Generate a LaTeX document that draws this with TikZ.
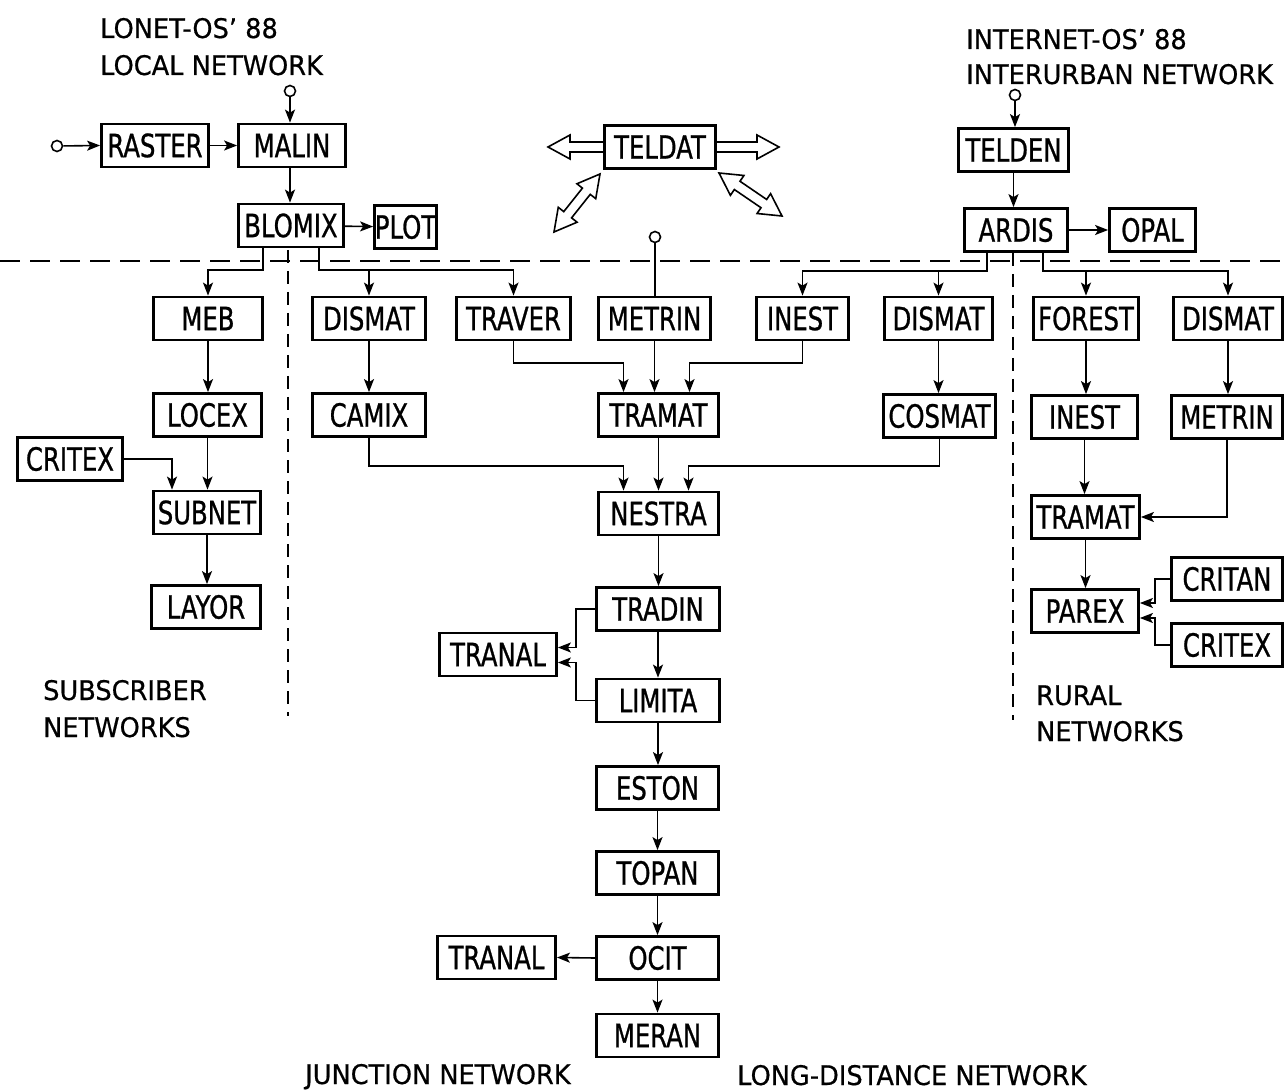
\documentclass[tikz,border=0pt]{standalone}
\usepackage{fontspec}
\setmainfont{DejaVu Sans}
\newfontfamily\boxfnt[FakeStretch=0.76,FakeBold=0.8]{DejaVu Sans}
\newfontfamily\hdrfnt[FakeStretch=0.95,FakeBold=0.6]{DejaVu Sans}
\usetikzlibrary{arrows.meta,calc}
\newcommand{\sglarrow}[2]{\draw[hol] ($(#1)!5pt!90:(#2)$) -- ($(#2)!22pt!(#1)!5pt!-90:(#1)$) -- ($(#2)!22pt!(#1)!12pt!-90:(#1)$) -- (#2) -- ($(#2)!22pt!(#1)!12pt!90:(#1)$) -- ($(#2)!22pt!(#1)!5pt!90:(#1)$) -- ($(#1)!5pt!-90:(#2)$);}
\newcommand{\dblarrow}[2]{\draw[hol] (#1) -- ($(#1)!22pt!(#2)!12pt!90:(#2)$) -- ($(#1)!22pt!(#2)!5pt!90:(#2)$) -- ($(#2)!22pt!(#1)!5pt!-90:(#1)$) -- ($(#2)!22pt!(#1)!12pt!-90:(#1)$) -- (#2) -- ($(#2)!22pt!(#1)!12pt!90:(#1)$) -- ($(#2)!22pt!(#1)!5pt!90:(#1)$) -- ($(#1)!22pt!(#2)!5pt!-90:(#2)$) -- ($(#1)!22pt!(#2)!12pt!-90:(#2)$) -- cycle;}
\begin{document}
\begin{tikzpicture}[x=1pt,y=-1pt,
  bx/.style={draw, line width=2.8pt, inner sep=0pt, minimum height=43pt, font=\boxfnt\fontsize{32}{32}\selectfont},
  bw/.style={minimum width=#1pt},
  arr/.style={-{Stealth[length=13pt,width=10pt,inset=3pt]}, line width=1.6pt},
  ln/.style={line width=1.6pt},
  inp/.style={circle, draw, line width=1.6pt, minimum size=11pt, inner sep=0pt},
  hol/.style={line width=1.6pt, line join=miter},
  dsh/.style={line width=1.6pt, dash pattern=on 20pt off 10pt},
  vdsh/.style={line width=1.6pt, dash pattern=on 13pt off 8pt},
  lbl/.style={inner sep=0pt, anchor=base west, font=\hdrfnt\fontsize{27}{27}\selectfont}]
\useasboundingbox (0,0) rectangle (1286,1091);
\fill[white] (0,0) rectangle (1286,1091);

% separators
\draw[dsh] (0,261) -- (1286,261);
\draw[vdsh] (288,250) -- (288,716);
\draw[vdsh] (1013,253) -- (1013,720);

% headings
\node[lbl] (h1) at (100,38) {LONET-OS’ 88};
\node[lbl] (h2) at (100,75) {LOCAL NETWORK};
\node[lbl] (h3) at (966,49) {INTERNET-OS’ 88};
\node[lbl] (h4) at (966,84) {INTERURBAN NETWORK};
\node[lbl] (h5) at (43,700) {SUBSCRIBER};
\node[lbl] (h6) at (43,737) {NETWORKS};
\node[lbl] (h7) at (1036,705) {RURAL};
\node[lbl] (h8) at (1036,741) {NETWORKS};
\node[lbl] (h9) at (305,1084) {JUNCTION NETWORK};
\node[lbl] (h10) at (737,1085) {LONG-DISTANCE NETWORK};

% boxes
\node[bx,bw=107] (raster) at (155,145.5) {RASTER};
\node[bx,bw=107] (malin) at (292,145.5) {MALIN};
\node[bx,bw=105] (blomix) at (291,225.5) {BLOMIX};
\node[bx,bw=62] (plot) at (405.5,227) {PLOT};
\node[bx,bw=111] (teldat) at (660,147) {TELDAT};
\node[bx,bw=110] (telden) at (1013.5,150) {TELDEN};
\node[bx,bw=103] (ardis) at (1016,230) {ARDIS};
\node[bx,bw=86] (opal) at (1152.5,230) {OPAL};

\node[bx,bw=109] (meb) at (208,318.5) {MEB};
\node[bx,bw=113] (dismatj) at (369,318.5) {DISMAT};
\node[bx,bw=114] (traver) at (513.5,318.5) {TRAVER};
\node[bx,bw=112] (metrin) at (654.5,318.5) {METRIN};
\node[bx,bw=92] (inest) at (802.5,318.5) {INEST};
\node[bx,bw=108] (dismatl) at (938.5,318.5) {DISMAT};
\node[bx,bw=105] (forest) at (1086,318.5) {FOREST};
\node[bx,bw=109] (dismatr) at (1228,318.5) {DISMAT};

\node[bx,bw=108] (locex) at (207.5,415) {LOCEX};
\node[bx,bw=113] (camix) at (369,415) {CAMIX};
\node[bx,bw=120] (tramatc) at (658.5,415) {TRAMAT};
\node[bx,bw=112] (cosmat) at (939.5,416) {COSMAT};
\node[bx,bw=106] (inestr) at (1084.5,417) {INEST};
\node[bx,bw=111] (metrinr) at (1227,417) {METRIN};

\node[bx,bw=105] (critexl) at (70,459) {CRITEX};
\node[bx,bw=107] (subnet) at (207,512.5) {SUBNET};
\node[bx,bw=120] (nestra) at (658.5,513.5) {NESTRA};
\node[bx,bw=108] (tramatr) at (1085.5,517) {TRAMAT};

\node[bx,bw=109] (layor) at (206,607) {LAYOR};
\node[bx,bw=123] (tradin) at (658,609) {TRADIN};
\node[bx,bw=107] (parex) at (1085,611) {PAREX};
\node[bx,bw=111] (critan) at (1227,579) {CRITAN};
\node[bx,bw=111] (critexr) at (1227,645) {CRITEX};
\node[bx,bw=117] (tranala) at (498,654.5) {TRANAL};
\node[bx,bw=123] (limita) at (658,700.5) {LIMITA};
\node[bx,bw=122] (eston) at (657.5,788) {ESTON};
\node[bx,bw=122] (topan) at (657.5,873) {TOPAN};
\node[bx,bw=122] (ocit) at (657.5,958) {OCIT};
\node[bx,bw=118] (tranalb) at (496.5,957.5) {TRANAL};
\node[bx,bw=122] (meran) at (657.5,1035.5) {MERAN};

% inputs
\node[inp] (c1) at (57,146) {};
\node[inp] (c2) at (290,91) {};
\node[inp] (c3) at (655,237) {};
\node[inp] (c4) at (1015,95) {};

\coordinate (hl) at (0,270);
\coordinate (hr) at (0,271);
\coordinate (ht) at (0,363);
\coordinate (hm) at (0,466);

% local network
\draw[arr] (c1) -- (raster.west);
\draw[arr] (raster) -- (malin);
\draw[arr] (c2) -- (c2 |- malin.north);
\draw[arr] (c2 |- malin.south) -- (c2 |- blomix.north);
\draw[arr] (blomix) -- (plot);
\coordinate (bl1) at ([xshift=-28pt]blomix.south);
\coordinate (bl2) at ([xshift=28pt]blomix.south);
\draw[arr] (bl1) -- (bl1 |- hl) -| (meb.north);
\draw[arr] (bl2) -- (bl2 |- hl) -| (traver.north);
\draw[arr] (dismatj.north |- hl) -- (dismatj.north);

% subscriber
\draw[arr] (meb.south) -- (meb.south |- locex.north);
\draw[arr] (locex.south) -- (locex.south |- subnet.north);
\draw[arr] (subnet.south) -- (subnet.south |- layor.north);
\coordinate (sb1) at ([xshift=-35pt]subnet.north);
\draw[arr] (critexl.east) -| (sb1);

% junction
\draw[arr] (dismatj.south) -- (dismatj.south |- camix.north);
\coordinate (tm1) at ([xshift=-35pt]tramatc.north);
\coordinate (tm3) at ([xshift=31pt]tramatc.north);
\draw[arr] (traver.south) |- (tm1 |- ht) -- (tm1);
\draw[arr] (inest.south) |- (tm3 |- ht) -- (tm3);
\draw[ln] (c3) -- (c3 |- metrin.north);
\draw[arr] (metrin.south) -- (metrin.south |- tramatc.north);
\coordinate (ns1) at ([xshift=-35pt]nestra.north);
\coordinate (ns3) at ([xshift=30pt]nestra.north);
\draw[arr] (camix.south) |- (ns1 |- hm) -- (ns1);
\draw[arr] (cosmat.south) |- (ns3 |- hm) -- (ns3);
\draw[arr] (tramatc.south) -- (nestra.north);
\draw[arr] (dismatl.south) -- (dismatl.south |- cosmat.north);

\draw[arr] (nestra.south) -- (nestra.south |- tradin.north);
\draw[arr] (tradin.south) -- (tradin.south |- limita.north);
\draw[arr] (limita.south) -- (limita.south |- eston.north);
\draw[arr] (eston.south) -- (eston.south |- topan.north);
\draw[arr] (topan.south) -- (topan.south |- ocit.north);
\draw[arr] (ocit.south) -- (ocit.south |- meran.north);
\draw[arr] (ocit.west) -- (tranalb.east);
\coordinate (ta1) at ([yshift=7pt]tranala.east);
\coordinate (ta2) at ([yshift=-8pt]tranala.east);
\draw[arr] (tradin.west) -- ++(-19,0) |- (ta1);
\draw[arr] (limita.west) -- ++(-19,0) |- (ta2);

% interurban
\draw[arr] (c4) -- (c4 |- telden.north);
\draw[arr] (telden.south) -- (telden.south |- ardis.north);
\draw[arr] (ardis) -- (opal);
\coordinate (ar1) at ([xshift=-29pt]ardis.south);
\coordinate (ar2) at ([xshift=27pt]ardis.south);
\draw[arr] (ar1) -- (ar1 |- hr) -| (inest.north);
\draw[arr] (dismatl.north |- hr) -- (dismatl.north);
\draw[arr] (ar2) -- (ar2 |- hr) -| (dismatr.north);
\draw[arr] (forest.north |- hr) -- (forest.north);

% rural
\draw[arr] (forest.south) -- (forest.south |- inestr.north);
\draw[arr] (inestr.south) -- (inestr.south |- tramatr.north);
\draw[arr] (tramatr.south) -- (tramatr.south |- parex.north);
\draw[arr] (dismatr.south) -- (dismatr.south |- metrinr.north);
\draw[arr] (metrinr.south) |- (tramatr.east);
\coordinate (pa1) at ([yshift=8pt]parex.east);
\coordinate (pa2) at ([yshift=-7pt]parex.east);
\draw[arr] (critan.west) -- ++(-15,0) |- (pa1);
\draw[arr] (critexr.west) -- ++(-15,0) |- (pa2);

% TELDAT hollow arrows
\coordinate (tl) at (548,147);
\coordinate (tr) at (779,147);
\coordinate (d1a) at (600,174);
\coordinate (d1b) at (554,232);
\coordinate (d2a) at (719,173);
\coordinate (d2b) at (782,216);
\sglarrow{teldat.west}{tl}
\sglarrow{teldat.east}{tr}
\dblarrow{d1a}{d1b}
\dblarrow{d2a}{d2b}
\end{tikzpicture}
\end{document}
